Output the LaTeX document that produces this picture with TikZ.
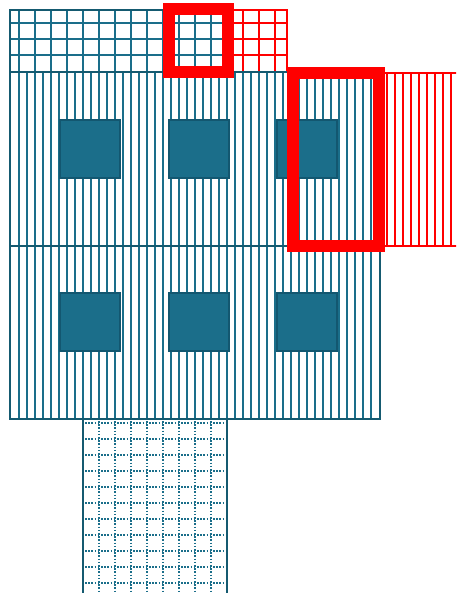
\documentclass[tikz,border=0pt]{standalone}
\definecolor{tealline}{HTML}{1A6E8A}
\definecolor{tealborder}{HTML}{155A70}
\definecolor{winfill}{HTML}{1B6E8A}
\definecolor{winborder}{HTML}{135770}
\definecolor{pureRed}{HTML}{FF0000}
\begin{document}
\begin{tikzpicture}[x=1pt,y=-1pt,
  gridline/.style={tealline, line width=2pt},
  vline/.style={tealline, line width=1.8pt},
  border/.style={tealborder, line width=2.6pt},
  redline/.style={pureRed, line width=2pt},
  dotline/.style={tealline, line width=1.8pt, dash pattern=on 1.6pt off 1.6pt},
  window/.style={fill=winfill, draw=winborder, line width=2.2pt},
  redbox/.style={draw=pureRed, line width=12pt}]
\useasboundingbox (0,0) rectangle (456,593);
\clip (0,0) rectangle (456,593);
% top grid (teal part)
\foreach \x in {19,35,...,227} \draw[gridline] (\x,10) -- (\x,72);
\foreach \y in {23,39,55} \draw[gridline] (10,\y) -- (228,\y);
\draw[border] (228,10) -- (10,10) -- (10,72);
% top grid (red part)
\foreach \x in {243,259,275} \draw[redline] (\x,10) -- (\x,72);
\foreach \y in {23,39,55} \draw[redline] (228,\y) -- (287,\y);
\draw[redline] (228,10) -- (287,10) -- (287,72);
% main body
\foreach \x in {19,27,...,371} \draw[vline] (\x,72) -- (\x,419);
\draw[border] (10,72) rectangle (380,419);
\draw[border] (10,246) -- (380,246);
% red right region
\foreach \x in {387,395,...,451} \draw[redline] (\x,73) -- (\x,246);
\draw[redline] (380,73) -- (460,73);
\draw[redline] (380,246) -- (460,246);
% windows
\foreach \x in {60,169,277} \foreach \y in {120,293} \draw[window] (\x,\y) rectangle ++(60,58);
% bottom region
\foreach \x in {99,115,...,211} \draw[dotline] (\x,421) -- (\x,600);
\foreach \y in {423,439,...,583} \draw[dotline] (85,\y) -- (226,\y);
\draw[border] (83,419) -- (83,600);
\draw[border] (227,419) -- (227,600);
% red highlight boxes
\draw[redbox] (169,9) rectangle (228,72);
\draw[redbox] (293,73) rectangle (379,246);
\end{tikzpicture}
\end{document}
